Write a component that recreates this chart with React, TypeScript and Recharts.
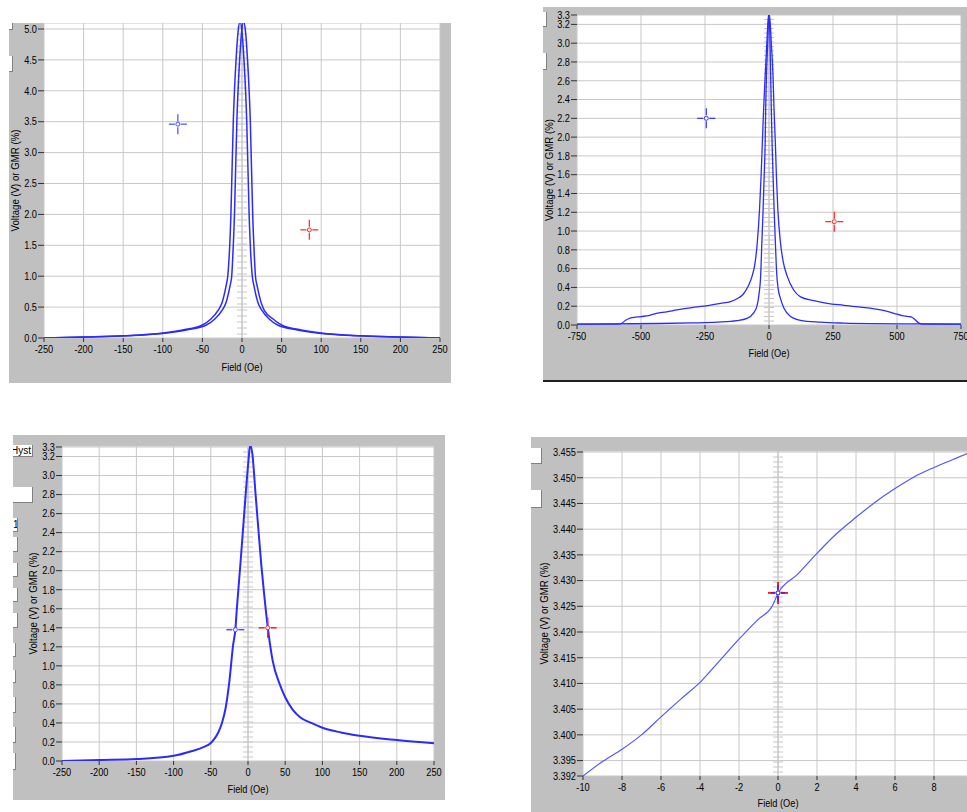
import { LineChart, Line, XAxis, YAxis, CartesianGrid, ReferenceLine, ReferenceDot } from "recharts";

const FONT = "'Liberation Sans', Arial, sans-serif";
const GRAY = "#c0c0c0";
const GRID = "#c8c8c8";
const BLUE = "#2b2bff";
const RED = "#ff2020";
const SQUEEZE = 0.84;

// ---- top-left: GMR loop, +/-250 Oe ----
const p1FieldTicks = [-250, -200, -150, -100, -50, 0, 50, 100, 150, 200, 250];
const p1GmrTicks = [0, 0.5, 1, 1.5, 2, 2.5, 3, 3.5, 4, 4.5, 5];
const p1FieldA = [-250, -200, -150, -100, -75, -50, -40, -30, -25, -20, -18, -15.5, -14, -13, -12, -11, -9.5, -7.5, -5, -2.5, 0, 2.5, 4.5, 6, 7, 8, 9, 10.5, 13, 15, 20, 25, 35, 45, 70, 95, 145, 195, 250];
const p1GmrA = [0, 0.015, 0.035, 0.08, 0.13, 0.21, 0.3, 0.45, 0.58, 0.85, 1.0, 1.5, 2.0, 2.5, 3.0, 3.5, 4.0, 4.5, 4.95, 5.12, 4.95, 4.5, 4.0, 3.5, 3.0, 2.5, 2.0, 1.5, 1.0, 0.85, 0.58, 0.45, 0.3, 0.21, 0.13, 0.08, 0.035, 0.015, 0];
const p1FieldB = [-250, -195, -145, -95, -70, -45, -35, -25, -20, -15, -13, -11, -9.5, -8.5, -7.5, -6.5, -5, -3, -0.5, 2, 4.5, 7, 9, 10.5, 11.5, 12.5, 13.5, 15, 17, 19, 24, 28, 40, 50, 75, 100, 150, 200, 250];
const p1GmrB = [0, 0.015, 0.035, 0.08, 0.13, 0.21, 0.3, 0.45, 0.58, 0.85, 1.0, 1.5, 2.0, 2.5, 3.0, 3.5, 4.0, 4.5, 4.95, 5.12, 4.95, 4.5, 4.0, 3.5, 3.0, 2.5, 2.0, 1.5, 1.0, 0.85, 0.58, 0.45, 0.3, 0.21, 0.13, 0.08, 0.035, 0.015, 0];
const p1CursorField = [-81, 85];
const p1CursorGmr = [3.46, 1.75];

// ---- top-right: wide sweep, +/-750 Oe ----
const p2FieldTicks = [-750, -500, -250, 0, 250, 500, 750];
const p2GmrTicks = [0, 0.2, 0.4, 0.6, 0.8, 1.0, 1.2, 1.4, 1.6, 1.8, 2.0, 2.2, 2.4, 2.6, 2.8, 3.0, 3.2, 3.3];
const p2FieldWide = [-750, -600, -580, -560, -540, -500, -470, -440, -400, -360, -300, -255, -190, -150, -125, -100, -80, -66, -55, -46, -37, -31, -26, -21, -15, -8.5, -1, 1, 9, 15.7, 19.6, 24.8, 29, 34.5, 45, 55, 71, 97, 123, 175, 227, 293, 358, 436, 488, 520, 545, 560, 586, 600, 750];
const p2GmrWide = [0.01, 0.01, 0.012, 0.05, 0.075, 0.09, 0.1, 0.125, 0.14, 0.16, 0.185, 0.2, 0.23, 0.25, 0.28, 0.33, 0.42, 0.52, 0.65, 0.87, 1.23, 1.58, 1.94, 2.3, 2.65, 3.0, 3.32, 3.32, 3.0, 2.65, 2.3, 1.94, 1.58, 1.23, 0.87, 0.68, 0.52, 0.37, 0.3, 0.26, 0.23, 0.21, 0.19, 0.16, 0.125, 0.1, 0.09, 0.08, 0.02, 0.01, 0.01];
const p2FieldNarrow = [-750, -600, -430, -300, -200, -125, -86, -60, -47, -38, -33, -28, -23, -19, -15, -13, -10, -5, -1, 1, 4, 6.5, 9, 12, 16, 20, 25, 30, 35, 45, 58, 84, 123, 200, 293, 400, 600, 750];
const p2GmrNarrow = [0.01, 0.012, 0.016, 0.022, 0.03, 0.046, 0.07, 0.13, 0.2, 0.35, 0.5, 0.87, 1.23, 1.58, 1.94, 2.3, 2.65, 3.0, 3.28, 3.3, 3.0, 2.65, 2.3, 1.94, 1.58, 1.23, 0.87, 0.55, 0.4, 0.28, 0.18, 0.09, 0.05, 0.03, 0.02, 0.015, 0.012, 0.01];
const p2CursorField = [-245, 255];
const p2CursorGmr = [2.2, 1.1];

// ---- bottom-left: single sweep, +/-250 Oe ----
const p3FieldTicks = [-250, -200, -150, -100, -50, 0, 50, 100, 150, 200, 250];
const p3GmrTicks = [0, 0.2, 0.4, 0.6, 0.8, 1.0, 1.2, 1.4, 1.6, 1.8, 2.0, 2.2, 2.4, 2.6, 2.8, 3.0, 3.2, 3.3];
const p3Field = [-250, -200, -150, -100, -75, -60, -50, -45, -40, -35, -30, -25, -20, -17, -15, -10, -5, 0, 3, 6, 10, 14, 18, 22, 26.5, 33, 43, 50, 60, 70, 85, 100, 125, 150, 200, 250];
const p3Gmr = [0, 0.01, 0.02, 0.055, 0.105, 0.145, 0.19, 0.235, 0.3, 0.4, 0.56, 0.84, 1.22, 1.38, 1.6, 2.09, 2.61, 3.1, 3.32, 3.22, 2.82, 2.43, 2.05, 1.73, 1.41, 1.06, 0.8, 0.67, 0.54, 0.46, 0.4, 0.35, 0.3, 0.265, 0.22, 0.186];
const p3CursorField = [-17, 26.5];
const p3CursorGmr = [1.38, 1.4];

// ---- bottom-right: zoom around 0 Oe ----
const p4FieldTicks = [-10, -8, -6, -4, -2, 0, 2, 4, 6, 8, 10];
const p4GmrTicks = [3.392, 3.395, 3.4, 3.405, 3.41, 3.415, 3.42, 3.425, 3.43, 3.435, 3.44, 3.445, 3.45, 3.455];
const p4Field = [-10, -9, -8, -7, -6, -5, -4, -3, -2, -1, -0.3, 0, 1, 2, 3, 4, 5, 6, 7, 8, 9.7, 10];
const p4Gmr = [3.392, 3.3948, 3.3972, 3.4, 3.4035, 3.4069, 3.4102, 3.4144, 3.4186, 3.4225, 3.425, 3.4275, 3.4312, 3.4353, 3.4391, 3.4423, 3.4453, 3.4479, 3.4502, 3.452, 3.4547, 3.4552];
const p4CursorField = [0, 0];
const p4CursorGmr = [3.4276, 3.4276];

const zip = (xs: number[], ys: number[]) => xs.map((x, i) => ({ x, v: ys[i] }));

function Ruler(props: any) {
  const { x1, y1, y2, step } = props;
  const top = Math.min(y1, y2);
  const bottom = Math.max(y1, y2);
  const marks = [];
  for (let y = bottom - 4; y > top + 2; y -= step) {
    marks.push(<line key={y} x1={x1 - 5} x2={x1 + 5} y1={y} y2={y} />);
  }
  return (
    <g stroke="#c6c6c6" strokeWidth={1}>
      <line x1={x1} x2={x1} y1={top} y2={bottom} />
      {marks}
    </g>
  );
}

function Crosshair(props: any) {
  const { cx, cy, color, arm, vertical, thick } = props;
  return (
    <g stroke={color} strokeWidth={thick} fill="none">
      <line x1={cx - arm} x2={cx - 3} y1={cy} y2={cy} />
      <line x1={cx + 3} x2={cx + arm} y1={cy} y2={cy} />
      {vertical && <line x1={cx} x2={cx} y1={cy - arm - 1} y2={cy - 3} />}
      {vertical && <line x1={cx} x2={cx} y1={cy + 3} y2={cy + arm + 1} />}
      <circle cx={cx} cy={cy} r={2} fill="#fff" strokeWidth={1} />
    </g>
  );
}

// narrow sans text, like the old Windows dialog font
function Narrow({ x, y, anchor, baseline, rotate = 0, size = 11, children }: any) {
  return (
    <text
      transform={`translate(${x},${y}) rotate(${rotate}) scale(${SQUEEZE},1)`}
      textAnchor={anchor}
      dominantBaseline={baseline}
      fontSize={size}
      fontFamily={FONT}
      fill="#000"
    >
      {children}
    </text>
  );
}

const XTick = (digits: number) => (props: any) => (
  <Narrow x={props.x} y={props.y + 1} anchor="middle" baseline="hanging">
    {Number(props.payload.value).toFixed(digits)}
  </Narrow>
);

const YTick = (digits: number) => (props: any) => (
  <Narrow x={props.x} y={props.y} anchor="end" baseline="central">
    {Number(props.payload.value).toFixed(digits)}
  </Narrow>
);

type Series = { data: { x: number; v: number }[]; color: string; width: number };
type Cursor = { x: number; v: number; color: string; arm: number; vertical: boolean; thick: number };

interface PanelProps {
  left: number;
  top: number;
  width: number;
  height: number;
  yAxisW: number;
  mTop: number;
  mRight: number;
  xAxisH: number;
  xDomain: [number, number];
  xTicks: number[];
  yDomain: [number, number];
  yTicks: number[];
  digits: number;
  series: Series[];
  cursors: Cursor[];
  rulerStep: number;
  yTitleX: number;
  xTitleY: number;
}

function Panel(p: PanelProps) {
  const plotW = p.width - p.yAxisW - p.mRight;
  const plotH = p.height - p.mTop - p.xAxisH;
  const yTitleY = p.mTop + plotH / 2;
  const xTitleX = p.yAxisW + plotW / 2;
  return (
    <div style={{ position: "absolute", left: p.left, top: p.top, width: p.width, height: p.height, background: GRAY }}>
      <div style={{ position: "absolute", left: p.yAxisW, top: p.mTop, width: plotW, height: plotH, background: "#fff" }} />
      <div style={{ position: "absolute", left: 0, top: 0 }}>
        <LineChart width={p.width} height={p.height} margin={{ top: p.mTop, right: p.mRight, bottom: 0, left: 0 }}>
          <CartesianGrid stroke={GRID} />
          <XAxis
            type="number"
            dataKey="x"
            domain={p.xDomain}
            ticks={p.xTicks}
            interval={0}
            allowDataOverflow
            height={p.xAxisH}
            axisLine={false}
            tickSize={4}
            tickMargin={2}
            tickLine={{ stroke: "#303030" }}
            tick={XTick(0)}
            label={() => (
              <Narrow x={xTitleX} y={p.xTitleY} anchor="middle" baseline="central">
                Field (Oe)
              </Narrow>
            )}
          />
          <YAxis
            type="number"
            domain={p.yDomain}
            ticks={p.yTicks}
            interval={0}
            allowDataOverflow
            width={p.yAxisW}
            axisLine={false}
            tickSize={6}
            tickMargin={1}
            tickLine={{ stroke: "#303030" }}
            tick={YTick(p.digits)}
            label={() => (
              <Narrow x={p.yTitleX} y={yTitleY} anchor="middle" baseline="central" rotate={-90} size={11.5}>
                Voltage (V) or GMR (%)
              </Narrow>
            )}
          />
          <ReferenceLine x={0} shape={(s: any) => <Ruler {...s} step={p.rulerStep} />} />
          {p.series.map((s, i) => (
            <Line
              key={i}
              data={s.data}
              dataKey="v"
              type="monotone"
              stroke={s.color}
              strokeWidth={s.width}
              dot={false}
              activeDot={false}
              isAnimationActive={false}
            />
          ))}
          {p.cursors.map((c, i) => (
            <ReferenceDot
              key={i}
              x={c.x}
              y={c.v}
              r={3}
              shape={(s: any) => <Crosshair {...s} color={c.color} arm={c.arm} vertical={c.vertical} thick={c.thick} />}
            />
          ))}
        </LineChart>
      </div>
    </div>
  );
}

const boxStyle = (l: number, t: number, w: number, h: number) => ({
  position: "absolute" as const,
  left: l,
  top: t,
  width: w,
  height: h,
  background: "#fff",
  borderRight: "1px solid #808080",
  borderBottom: "1px solid #808080",
  boxSizing: "border-box" as const,
});

const p3Boxes = [
  [518, 14, 5],
  [537, 15, 5],
  [563, 14, 5],
  [588, 14, 5],
  [613, 15, 5],
  [643, 14, 3],
  [670, 13, 3],
  [697, 16, 3],
  [727, 16, 3],
  [753, 17, 3],
];

export default function App() {
  return (
    <div style={{ position: "absolute", left: 0, top: 0, width: 967, height: 812, overflow: "hidden", background: "#fff", fontFamily: FONT }}>
      <Panel
        left={9}
        top={23}
        width={442}
        height={360}
        yAxisW={35}
        mTop={0}
        mRight={11}
        xAxisH={45}
        xDomain={[-250, 250]}
        xTicks={p1FieldTicks}
        yDomain={[0, 5.097]}
        yTicks={p1GmrTicks}
        digits={1}
        series={[
          { data: zip(p1FieldA, p1GmrA), color: BLUE, width: 1.5 },
          { data: zip(p1FieldB, p1GmrB), color: BLUE, width: 1.5 },
        ]}
        cursors={[
          { x: p1CursorField[0], v: p1CursorGmr[0], color: "#4848ff", arm: 9, vertical: true, thick: 1.2 },
          { x: p1CursorField[1], v: p1CursorGmr[1], color: RED, arm: 9, vertical: true, thick: 1.2 },
        ]}
        rulerStep={6}
        yTitleX={5.5}
        xTitleY={344}
      />
      <div style={boxStyle(9, 23, 4, 7)} />
      <div style={boxStyle(9, 56, 4, 16)} />

      <Panel
        left={543}
        top={7}
        width={424}
        height={373}
        yAxisW={34}
        mTop={8}
        mRight={6}
        xAxisH={55}
        xDomain={[-750, 750]}
        xTicks={p2FieldTicks}
        yDomain={[0, 3.3]}
        yTicks={p2GmrTicks}
        digits={1}
        series={[
          { data: zip(p2FieldWide, p2GmrWide), color: BLUE, width: 1.3 },
          { data: zip(p2FieldNarrow, p2GmrNarrow), color: BLUE, width: 1.3 },
        ]}
        cursors={[
          { x: p2CursorField[0], v: p2CursorGmr[0], color: "#3030ff", arm: 9, vertical: true, thick: 1.2 },
          { x: p2CursorField[1], v: p2CursorGmr[1], color: RED, arm: 9, vertical: true, thick: 1.2 },
        ]}
        rulerStep={4.5}
        yTitleX={5.5}
        xTitleY={346}
      />
      <div style={{ position: "absolute", left: 543, top: 380, width: 424, height: 2, background: "#202020" }} />
      <div style={boxStyle(543, 12, 4, 15)} />
      <div style={boxStyle(543, 53, 4, 17)} />

      <Panel
        left={13}
        top={435}
        width={432}
        height={365}
        yAxisW={49}
        mTop={11}
        mRight={11}
        xAxisH={39}
        xDomain={[-250, 250]}
        xTicks={p3FieldTicks}
        yDomain={[0, 3.3105]}
        yTicks={p3GmrTicks}
        digits={1}
        series={[{ data: zip(p3Field, p3Gmr), color: BLUE, width: 2 }]}
        cursors={[
          { x: p3CursorField[0], v: p3CursorGmr[0], color: "#5050ff", arm: 9, vertical: false, thick: 1.5 },
          { x: p3CursorField[1], v: p3CursorGmr[1], color: RED, arm: 9, vertical: true, thick: 1.5 },
        ]}
        rulerStep={5}
        yTitleX={20}
        xTitleY={354}
      />
      <div style={{ ...boxStyle(13, 445, 20, 12), overflow: "hidden", fontSize: 10, lineHeight: "11px", whiteSpace: "nowrap" }}>
        <span style={{ position: "absolute", right: 1, top: 0 }}>Hyst</span>
      </div>
      <div style={boxStyle(13, 487, 20, 16)} />
      {p3Boxes.map(([t, h, w], i) => (
        <div key={i} style={{ ...boxStyle(13, t, w, h), fontSize: 10, lineHeight: `${h}px`, overflow: "hidden" }}>
          {i === 0 ? "1" : ""}
        </div>
      ))}

      <Panel
        left={531}
        top={437}
        width={452}
        height={379}
        yAxisW={52}
        mTop={14}
        mRight={10}
        xAxisH={40}
        xDomain={[-10, 10]}
        xTicks={p4FieldTicks}
        yDomain={[3.392, 3.4552]}
        yTicks={p4GmrTicks}
        digits={3}
        series={[{ data: zip(p4Field, p4Gmr), color: "#5555ff", width: 1.2 }]}
        cursors={[
          { x: p4CursorField[0], v: p4CursorGmr[0], color: RED, arm: 10, vertical: true, thick: 2 },
          { x: p4CursorField[1], v: p4CursorGmr[1], color: "#2020ff", arm: 7, vertical: true, thick: 1.2 },
        ]}
        rulerStep={5}
        yTitleX={12.5}
        xTitleY={366}
      />
      <div style={boxStyle(531, 448, 11, 16)} />
      <div style={boxStyle(531, 490, 11, 18)} />
    </div>
  );
}
